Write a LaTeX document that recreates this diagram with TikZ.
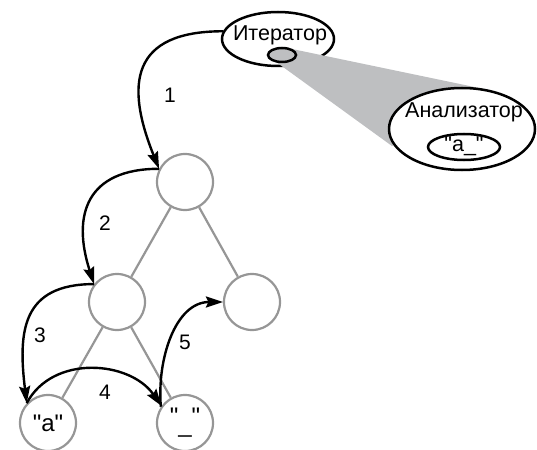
\documentclass[tikz,border=0pt]{standalone}
\usepackage{fontspec}
\setmainfont{Liberation Sans}
\usetikzlibrary{arrows.meta,shapes.geometric}
\definecolor{treegray}{RGB}{150,150,150}
\definecolor{wedgegray}{RGB}{190,191,193}
\begin{document}
\begin{tikzpicture}[x=1pt,y=-1pt,
  tnode/.style={circle,draw=treegray,line width=2.2pt,minimum size=56pt,inner sep=0pt,font=\fontsize{24}{25}\selectfont},
  tedge/.style={draw=treegray,line width=2.2pt},
  oval/.style={ellipse,draw=black,line width=2.5pt,fill=white,inner sep=0pt},
  arr/.style={draw=black,line width=2.4pt,-{Stealth[length=17pt,width=11pt,inset=2.5pt]}},
  lbl/.style={font=\fontsize{21}{22}\selectfont},
  otext/.style={font=\fontsize{21.5}{22}\selectfont}]
\clip (0,0) rectangle (537,449);
\useasboundingbox (0,0) rectangle (537,449);
% tree
\node[tnode] (r) at (185,182) {};
\node[tnode] (m) at (117,302) {};
\node[tnode] (q) at (252,302) {};
\node[tnode] (a) at (48,423) {\textquotedbl a\textquotedbl};
\node[tnode] (u) at (185,423) {\textquotedbl\raisebox{-8pt}{\_}\textquotedbl};
\draw[tedge] (r) -- (m);
\draw[tedge] (r) -- (q);
\draw[tedge] (m) -- (a);
\draw[tedge] (m) -- (u);
% iterator
\node[oval,minimum width=112pt,minimum height=54pt] (it) at (278,39) {};
\node[otext] (itt) at (280,35) {Итератор};
\coordinate (w1) at (272,59);
\coordinate (w2) at (292,49);
\coordinate (w3) at (484,89);
\coordinate (w4) at (392,146);
\fill[wedgegray] (w1) -- (w2) -- (w3) -- (w4) -- cycle;
\node[ellipse,draw=black,fill=wedgegray,line width=2.5pt,minimum width=28pt,minimum height=14pt,inner sep=0pt] (sm) at (282,55) {};
\node[oval,minimum width=146pt,minimum height=82pt] (an) at (462,129) {};
\node[otext] (ant) at (464,112) {Анализатор};
\node[oval,minimum width=72pt,minimum height=26pt] (as) at (464,147) {};
\node[otext] (ast) at (464,146) {\textquotedbl a\_\textquotedbl};
% arrows
\draw[arr] (it.172) to[out=180,in=112,looseness=1.55] (r.153);
\draw[arr] (r.153) to[out=180,in=108,looseness=1.4] (m.142);
\draw[arr] (m.142) to[out=180,in=97,looseness=1.35] (a.137);
\draw[arr] (a.137) to[out=62,in=125,looseness=1.05] (u.144);
\draw[arr] (u.146) to[out=95,in=180,looseness=1.0] (q.west);
% labels
\node[lbl] (l1) at (170,95) {1};
\node[lbl] (l2) at (105,223) {2};
\node[lbl] (l3) at (40,335) {3};
\node[lbl] (l4) at (105,392) {4};
\node[lbl] (l5) at (185,342) {5};
\end{tikzpicture}
\end{document}
